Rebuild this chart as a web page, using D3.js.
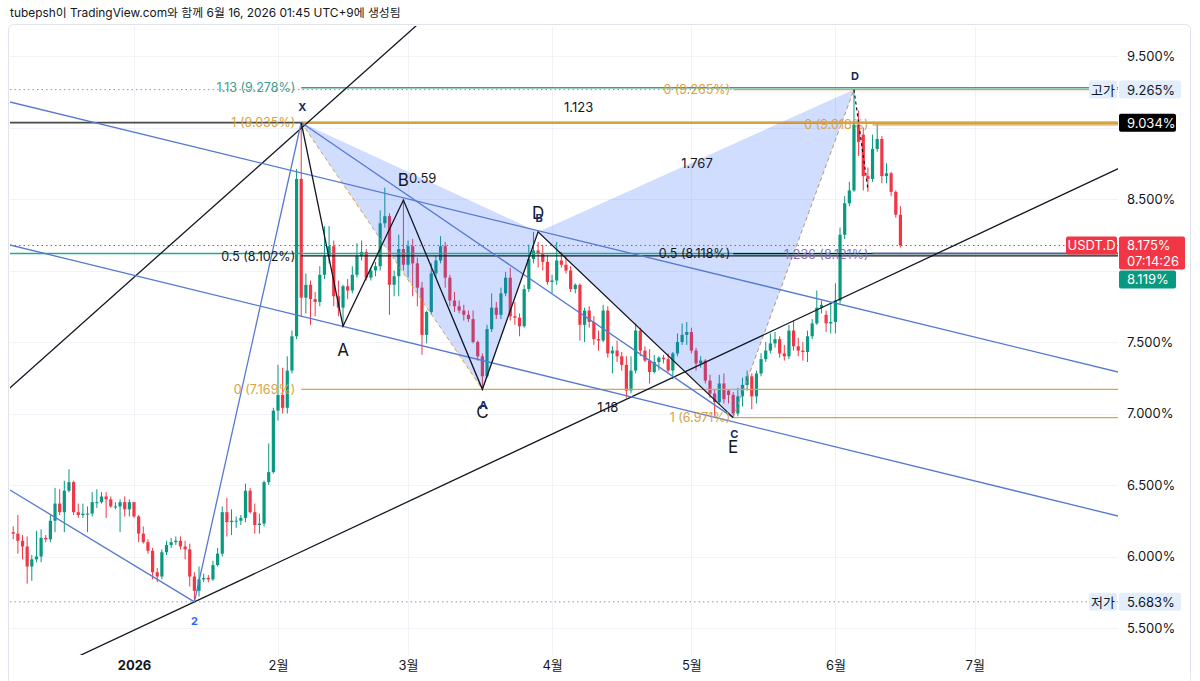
<!DOCTYPE html>
<html><head><meta charset="utf-8">
<script src="https://cdn.jsdelivr.net/npm/d3@7"></script>
<style>
html,body{margin:0;padding:0;background:#fff;}
svg{display:block;font-family:"Inter","Noto Sans CJK KR","Noto Sans",sans-serif;}
</style></head><body>
<svg id="c" width="1200" height="681"></svg>
<script>
// ---------------- DATA ----------------
const firstCandle = "2025-12-06"; // daily candles, one per day
const opens = [
6.17,6.16,6.11,6.07,5.93,5.98,6.00,6.13,6.12,6.25,
6.37,6.31,6.46,6.52,6.31,6.29,6.30,6.30,6.38,6.38,
6.42,6.40,6.35,6.35,6.38,6.33,6.38,6.28,6.16,6.10,
6.04,5.89,5.86,6.03,6.08,6.10,6.11,6.07,6.05,5.86,
5.76,5.84,5.85,5.84,5.94,6.02,6.31,6.24,6.25,6.25,
6.27,6.46,6.31,6.22,6.23,6.52,6.59,7.02,7.13,7.04,
7.30,7.54,8.64,7.81,7.90,7.80,7.78,7.97,8.10,8.17,
7.82,7.74,7.89,7.86,7.97,8.10,8.13,7.95,8.00,8.03,
8.33,8.38,7.90,7.96,8.15,8.04,8.17,8.05,7.88,7.55,
7.71,7.98,8.07,8.17,7.95,7.79,7.75,7.72,7.69,7.66,
7.50,7.40,7.26,7.59,7.74,7.69,7.84,7.95,7.68,7.67,
7.61,7.87,8.08,8.14,8.12,8.06,7.92,7.93,8.07,8.04,
8.00,7.87,7.90,7.62,7.72,7.64,7.52,7.51,7.72,7.42,
7.44,7.40,7.34,7.16,7.30,7.58,7.44,7.37,7.29,7.36,
7.39,7.38,7.30,7.42,7.50,7.55,7.57,7.44,7.35,7.37,
7.23,7.14,7.08,7.21,7.16,7.13,7.00,7.12,7.20,7.26,
7.12,7.28,7.38,7.44,7.49,7.52,7.42,7.40,7.58,7.47,
7.44,7.43,7.54,7.63,7.74,7.69,7.63,7.64,7.79,8.25,
8.47,8.56,9.02,8.95,8.66,8.64,8.85,8.92,8.66,8.68,
8.55,8.39];
const highs = [
6.21,6.29,6.15,6.14,6.01,6.18,6.19,6.15,6.29,6.48,
6.47,6.53,6.61,6.53,6.37,6.37,6.35,6.45,6.47,6.45,
6.45,6.42,6.38,6.40,6.42,6.40,6.38,6.29,6.21,6.12,
6.06,5.92,6.05,6.11,6.13,6.14,6.14,6.11,6.09,5.89,
5.93,5.88,5.87,5.97,6.06,6.35,6.41,6.33,6.28,6.29,
6.51,6.48,6.37,6.30,6.53,6.79,7.04,7.34,7.32,7.40,
7.58,8.71,9.035,7.98,7.93,7.85,8.03,8.31,8.31,8.21,
7.93,7.90,7.94,8.03,8.19,8.21,8.15,8.02,8.06,8.42,
8.58,8.40,8.00,8.25,8.49,8.21,8.22,8.09,7.92,7.72,
8.05,8.10,8.24,8.20,7.97,7.85,7.79,7.76,7.72,7.72,
7.51,7.42,7.62,7.84,7.78,7.88,7.99,8.02,7.78,7.70,
7.90,8.18,8.27,8.20,8.18,8.11,7.97,8.20,8.13,8.10,
8.03,7.91,7.91,7.74,7.75,7.68,7.58,7.76,7.75,7.47,
7.51,7.43,7.40,7.40,7.63,7.60,7.47,7.45,7.41,7.40,
7.41,7.42,7.43,7.56,7.63,7.64,7.60,7.46,7.40,7.38,
7.27,7.17,7.27,7.28,7.17,7.15,7.18,7.25,7.30,7.28,
7.30,7.42,7.50,7.56,7.57,7.54,7.48,7.62,7.65,7.53,
7.50,7.58,7.66,7.86,7.79,7.72,7.77,7.91,8.30,8.52,
8.62,9.265,9.12,9.00,8.72,8.95,9.02,8.94,8.75,8.69,
8.56,8.45];
const lows = [
6.12,6.02,5.98,5.81,5.83,5.96,5.96,6.10,6.10,6.17,
6.29,6.17,6.45,6.29,6.27,6.27,6.17,6.28,6.34,6.37,
6.27,6.34,6.33,6.17,6.28,6.28,6.27,6.10,6.09,6.02,
5.84,5.82,5.84,6.01,6.06,6.08,6.05,5.98,5.79,5.683,
5.72,5.82,5.82,5.83,5.93,6.00,6.14,6.15,6.20,6.22,
6.24,6.30,6.16,6.16,6.21,6.50,6.58,6.95,7.00,7.00,
7.28,7.52,7.68,7.70,7.62,7.68,7.75,7.94,8.05,7.75,
7.68,7.61,7.80,7.84,7.95,8.07,7.93,7.93,7.96,8.00,
8.30,7.69,7.82,7.82,8.00,7.95,7.82,7.75,7.41,7.49,
7.69,7.95,8.05,7.88,7.75,7.71,7.70,7.65,7.64,7.49,
7.37,7.169,7.25,7.57,7.66,7.66,7.82,7.65,7.62,7.54,
7.60,7.85,8.05,8.02,8.00,7.90,7.84,7.90,8.02,7.98,
7.85,7.84,7.51,7.50,7.60,7.48,7.44,7.50,7.39,7.28,
7.36,7.30,7.11,7.14,7.28,7.40,7.36,7.21,7.28,7.30,
7.35,7.29,7.24,7.40,7.48,7.48,7.42,7.30,7.32,7.21,
7.11,6.98,7.06,7.07,7.07,6.971,6.98,7.05,7.16,7.03,
7.07,7.26,7.36,7.42,7.46,7.39,7.37,7.38,7.44,7.40,
7.37,7.36,7.52,7.62,7.70,7.57,7.56,7.56,7.77,8.22,
8.45,8.55,8.80,8.56,8.55,8.62,8.83,8.61,8.61,8.52,
8.37,8.16];
const closes = [
6.16,6.11,6.07,5.93,5.98,6.00,6.13,6.12,6.25,6.37,
6.31,6.46,6.52,6.31,6.29,6.30,6.30,6.38,6.38,6.42,
6.40,6.35,6.35,6.38,6.33,6.38,6.28,6.16,6.10,6.04,
5.89,5.86,6.03,6.08,6.10,6.11,6.07,6.05,5.86,5.76,
5.84,5.85,5.84,5.94,6.02,6.31,6.24,6.25,6.25,6.27,
6.46,6.31,6.22,6.23,6.52,6.59,7.02,7.13,7.04,7.30,
7.54,8.64,7.81,7.90,7.80,7.78,7.97,8.10,8.17,7.82,
7.74,7.89,7.86,7.97,8.10,8.13,7.95,8.00,8.03,8.33,
8.38,7.90,7.96,8.15,8.04,8.17,8.05,7.88,7.55,7.71,
7.98,8.07,8.17,7.95,7.79,7.75,7.72,7.69,7.66,7.50,
7.40,7.26,7.59,7.74,7.69,7.84,7.95,7.68,7.67,7.61,
7.87,8.08,8.14,8.12,8.06,7.92,7.93,8.07,8.04,8.00,
7.87,7.90,7.62,7.72,7.64,7.52,7.51,7.72,7.42,7.44,
7.40,7.34,7.16,7.30,7.58,7.44,7.37,7.29,7.36,7.39,
7.38,7.30,7.42,7.50,7.55,7.57,7.44,7.35,7.37,7.23,
7.14,7.08,7.21,7.10,7.13,7.00,7.12,7.20,7.26,7.12,
7.28,7.38,7.44,7.49,7.52,7.42,7.40,7.58,7.47,7.44,
7.43,7.54,7.63,7.74,7.76,7.63,7.64,7.79,8.25,8.47,
8.56,9.02,8.90,8.66,8.64,8.85,8.92,8.66,8.68,8.55,
8.39,8.175];

const yTickValues = [9.5, 8.5, 7.5, 7.0, 6.5, 6.0, 5.5];
const yGridValues = [9.5, 9.0, 8.5, 8.0, 7.5, 7.0, 6.5, 6.0, 5.5];
const monthTickDates = ["2026-01-01","2026-02-01","2026-03-01","2026-04-01","2026-05-01","2026-06-01","2026-07-01"];
const monthTickLabels = ["2026","2월","3월","4월","5월","6월","7월"];

// drawing anchors: [days since 2026-01-01, value %]
const pattern1Points = [[36,9.035],[45,7.61],[58,8.493],[75,7.169],[87,8.27],[129,6.971]];
const pattern1Labels = ["X","A","B","C","D","E"];
const pattern2Points = [[36,9.035],[75,7.169],[87,8.27],[129,6.971],[155,9.265]];
const pattern2Labels = ["X","A","B","C","D"];
const pattern2Ratios = ["0.59","1.18","1.767","1.123"]; // XB, AC, BD, XD
const blackTrendLines = [[[-26,7.20],[60,9.69]], [[13,5.683],[171,8.09]]];
const blueChannelLines = [[[-26,9.173],[211,7.297]], [[-26,8.173],[211,6.29]]];
const blueSegments = [[[-26.7,6.465],[13,5.683]], [[13,5.683],[36,9.035]], [[36,9.035],[129,6.971]]];
const dashedProjection = [[155,9.265],[158,8.57]];
const pivotLowLabel = ["2", 13, 5.683];

const fibALevels = ["1.13","1","0.5","0"];
const fibAValues = [9.278, 9.035, 8.102, 7.169];
const fibAAnchors = [[36,9.035],[75,7.169]];
const fibBLevels = ["0","0.5","1"];
const fibBValues = [9.265, 8.118, 6.971];
const fibBAnchors = [[129,6.971],[155,9.265]];
const fibCLevels = ["0","1.236"];
const fibCValues = [9.018, 8.121];
const fibCStart = 159;

const symbolName = "USDT.D";
const lastPrice = 8.175;
const countdown = "07:14:26";
const markLine = 9.034;
const levelLine = 8.119;
const sessionHigh = 9.265;
const sessionLow = 5.683;
const headerText = "tubepsh이 TradingView.com와 함께 6월 16, 2026 01:45 UTC+9에 생성됨";

// ---------------- LAYOUT ----------------
const svg = d3.select("#c");
const L = 10, R = 1118, T = 26, B = 655;
const dayMs = 864e5;
const t0 = Date.UTC(2026,0,1);
const x = d3.scaleUtc().domain([t0, Date.UTC(2026,6,1)]).range([134, 134 + 181*4.645]);
const y = d3.scaleLinear().domain([5.5, 9.5]).range([628, 56]);
const dx = d => x(new Date(t0 + d*dayMs));
const fmt = v => v.toFixed(3) + "%";

svg.append("rect").attr("width",1200).attr("height",681).attr("fill","#fff");
svg.append("text").attr("x",10).attr("y",17).attr("font-size",11.9).attr("fill","#131722").text(headerText);
svg.append("rect").attr("x",8.5).attr("y",24.5).attr("width",1182).attr("height",660).attr("rx",5)
  .attr("fill","none").attr("stroke","#e0e3eb");

svg.append("defs").append("clipPath").attr("id","plot").append("rect")
  .attr("x",L).attr("y",T).attr("width",R-L).attr("height",B-T);

// grid
const grid = svg.append("g").attr("stroke","#f0f3fa").attr("stroke-width",1);
grid.selectAll(".h").data(yGridValues).join("line")
  .attr("x1",L).attr("x2",R).attr("y1",d=>Math.round(y(d))+0.5).attr("y2",d=>Math.round(y(d))+0.5);
grid.selectAll(".v").data(monthTickDates).join("line")
  .attr("x1",d=>Math.round(x(new Date(d)))+0.5).attr("x2",d=>Math.round(x(new Date(d)))+0.5)
  .attr("y1",T).attr("y2",B);

const plot = svg.append("g").attr("clip-path","url(#plot)");

const hl = (v, color, w, dash, x1=L, x2=R) => plot.append("line")
  .attr("x1",x1).attr("x2",x2).attr("y1",y(v)).attr("y2",y(v))
  .attr("stroke",color).attr("stroke-width",w).attr("stroke-dasharray",dash||null);

// candles
const candles = opens.map((o,i)=>({t:new Date(Date.parse(firstCandle+"T00:00:00Z") + i*dayMs), o, h:highs[i], l:lows[i], c:closes[i]}));
const up = "#089981", dn = "#f23645";
const cg = plot.append("g");
cg.selectAll("line").data(candles).join("line")
  .attr("x1",d=>x(d.t)).attr("x2",d=>x(d.t)).attr("y1",d=>y(d.h)).attr("y2",d=>y(d.l))
  .attr("stroke",d=>d.c>=d.o?up:dn).attr("stroke-width",1);
cg.selectAll("rect").data(candles).join("rect")
  .attr("x",d=>x(d.t)-1.6).attr("width",3.2)
  .attr("y",d=>y(Math.max(d.o,d.c))).attr("height",d=>Math.max(1,Math.abs(y(d.o)-y(d.c))))
  .attr("fill",d=>d.c>=d.o?up:dn);

// pattern 2 fills
const P2 = pattern2Points.map(p=>[dx(p[0]), y(p[1])]);
const fillCol = "rgba(41,98,255,0.22)";
plot.append("path").attr("d", d3.line()([P2[0],P2[1],P2[2]])+"Z").attr("fill",fillCol);
plot.append("path").attr("d", d3.line()([P2[2],P2[3],P2[4]])+"Z").attr("fill",fillCol);

// horizontal lines
hl(sessionHigh, "#6fa89d", 1, "1.5,3");
hl(sessionLow, "#9598a1", 1, "1.5,3");
hl(lastPrice, "#f23645", 1, "1.5,3");
hl(levelLine, "#22ab94", 1.4);
hl(markLine, "#4a4a4a", 1.6);

// fib A
const fibAColors = ["#3f9c8c","#d9a441","#131722","#d9a441"];
const fa0 = dx(fibAAnchors[0][0]);
fibAValues.forEach((v,i)=>hl(v, fibAColors[i], i===2?1.2:1.4, null, fa0, R));
plot.append("line").attr("x1",dx(fibAAnchors[0][0])).attr("y1",y(fibAAnchors[0][1]))
  .attr("x2",dx(fibAAnchors[1][0])).attr("y2",y(fibAAnchors[1][1]))
  .attr("stroke","#d9a441").attr("stroke-width",1).attr("stroke-dasharray","4,3");
// fib B
const fibBColors = ["#d9a441","#131722","#d9a441"];
const fb0 = dx(fibBAnchors[0][0]);
fibBValues.forEach((v,i)=>hl(v, fibBColors[i], 1.2, null, fb0, R));
plot.append("line").attr("x1",dx(fibBAnchors[0][0])).attr("y1",y(fibBAnchors[0][1]))
  .attr("x2",dx(fibBAnchors[1][0])).attr("y2",y(fibBAnchors[1][1]))
  .attr("stroke","#b89a6a").attr("stroke-width",1).attr("stroke-dasharray","4,3");
// fib C
const fibCColors = ["#d9a441","#8e6bbf"];
const fc0 = dx(fibCStart);
fibCValues.forEach((v,i)=>hl(v, fibCColors[i], 1.2, null, fc0, R));

// extended trend lines
const extend = (a,b,d1=-40,d2=230) => {
  const s = (b[1]-a[1])/(b[0]-a[0]);
  return [[dx(d1), y(a[1]+s*(d1-a[0]))],[dx(d2), y(a[1]+s*(d2-a[0]))]];
};
blackTrendLines.forEach(l=>plot.append("path").attr("d",d3.line()(extend(l[0],l[1])))
  .attr("stroke","#131722").attr("stroke-width",1.3).attr("fill","none"));
const blue = "#5579d0";
blueChannelLines.forEach(l=>plot.append("path").attr("d",d3.line()(extend(l[0],l[1])))
  .attr("stroke",blue).attr("stroke-width",1.3).attr("fill","none"));
blueSegments.forEach(l=>plot.append("path").attr("d",d3.line()(l.map(p=>[dx(p[0]),y(p[1])])))
  .attr("stroke",blue).attr("stroke-width",1.3).attr("fill","none"));

// pattern 1 legs
const P1 = pattern1Points.map(p=>[dx(p[0]), y(p[1])]);
plot.append("path").attr("d",d3.line()(P1)).attr("stroke","#131722").attr("stroke-width",1.3).attr("fill","none");
plot.append("path").attr("d",d3.line()(dashedProjection.map(p=>[dx(p[0]),y(p[1])])))
  .attr("stroke","#131722").attr("stroke-width",1.2).attr("stroke-dasharray","3,3").attr("fill","none");

// labels
const lab = svg.append("g");
const text = (tx,ty,s,opt={}) => lab.append("text").attr("x",tx).attr("y",ty)
  .attr("font-size",opt.size||13).attr("fill",opt.color||"#131722")
  .attr("text-anchor",opt.anchor||"middle").attr("dominant-baseline","central")
  .attr("font-weight",opt.weight||400).text(s);

const p1Off = [-15,24,-20,23,-19,29];
P1.forEach((p,i)=>{ if(i>0) text(p[0],p[1]+p1Off[i],pattern1Labels[i],{size:17}); });
const p2Off = [-15,16,-14,16,-14];
P2.forEach((p,i)=>text(p[0]+1,p[1]+p2Off[i],pattern2Labels[i],{size:11,color:"#1b2a63",weight:700}));
const ratioPairs = [[0,2],[1,3],[2,4],[0,4]];
ratioPairs.forEach(([a,b],i)=>{
  const mx=(P2[a][0]+P2[b][0])/2, my=(P2[a][1]+P2[b][1])/2;
  const off=[[3,1],[0,4],[1,2],[1,1]][i];
  text(mx+off[0], my+off[1], pattern2Ratios[i], {size:13});
});
text(dx(pivotLowLabel[1]), y(pivotLowLabel[2])+19, pivotLowLabel[0], {size:11,color:"#2962ff",weight:700});

// fib labels
fibAValues.forEach((v,i)=>text(fa0-6, y(v)+(i===2?1:0), `${fibALevels[i]} (${v.toFixed(3)}%)`, {anchor:"end",size:12.5,color:fibAColors[i]}));
fibBValues.forEach((v,i)=>text(fb0-3, y(v), `${fibBLevels[i]} (${v.toFixed(3)}%)`, {anchor:"end",size:12.5,color:fibBColors[i]}));
fibCValues.forEach((v,i)=>text(fc0-4, y(v)+(i===1?1:0), `${fibCLevels[i]} (${v.toFixed(3)}%)`, {anchor:"end",size:12.5,color:fibCColors[i]}));

// axes
const yAxis = d3.axisRight(y).tickValues(yTickValues).tickSize(0).tickPadding(9).tickFormat(fmt);
const ya = svg.append("g").attr("transform",`translate(${R},0)`).call(yAxis);
ya.select(".domain").remove();
ya.selectAll("text").attr("font-size",13).attr("fill","#131722").attr("font-family","Inter, Noto Sans, sans-serif");

const xAxis = d3.axisBottom(x).tickValues(monthTickDates.map(d=>new Date(d))).tickSize(0).tickPadding(6)
  .tickFormat((d,i)=>monthTickLabels[i]);
const xa = svg.append("g").attr("transform",`translate(0,${B})`).call(xAxis);
xa.select(".domain").remove();
xa.selectAll("text").attr("font-size",13).attr("fill","#131722")
  .attr("font-family","Inter, Noto Sans CJK KR, sans-serif")
  .attr("font-weight",(d,i)=>i===0?700:400);

// right badges
const badge = (bx,by,w,h,fill,lines,tc,anchor="start") => {
  svg.append("rect").attr("x",bx).attr("y",by).attr("width",w).attr("height",h).attr("rx",2).attr("fill",fill);
  lines.forEach((s,i)=>svg.append("text").attr("x",anchor==="middle"?bx+w/2:bx+8).attr("y",by+9+i*16)
    .attr("dominant-baseline","central").attr("text-anchor",anchor)
    .attr("font-size",13).attr("fill",tc).text(s));
};
badge(1089, y(sessionHigh)-9, 28, 18, "#e3eefc", ["고가"], "#131722", "middle");
badge(1119, y(sessionHigh)-9, 62, 18, "#e3eefc", [fmt(sessionHigh)], "#131722");
badge(1119, y(markLine)-9, 57, 18, "#000000", [fmt(markLine)], "#ffffff");
badge(1066, y(lastPrice)-9, 51, 18, "#f23645", [symbolName], "#ffffff", "middle");
badge(1119, y(lastPrice)-9, 66, 33, "#f23645", [fmt(lastPrice), countdown], "#ffffff");
badge(1119, y(lastPrice)+25, 57, 18, "#089981", [fmt(levelLine)], "#ffffff");
badge(1089, y(sessionLow)-9, 28, 18, "#e3eefc", ["저가"], "#131722", "middle");
badge(1119, y(sessionLow)-9, 62, 18, "#e3eefc", [fmt(sessionLow)], "#131722");
</script>
</body></html>
